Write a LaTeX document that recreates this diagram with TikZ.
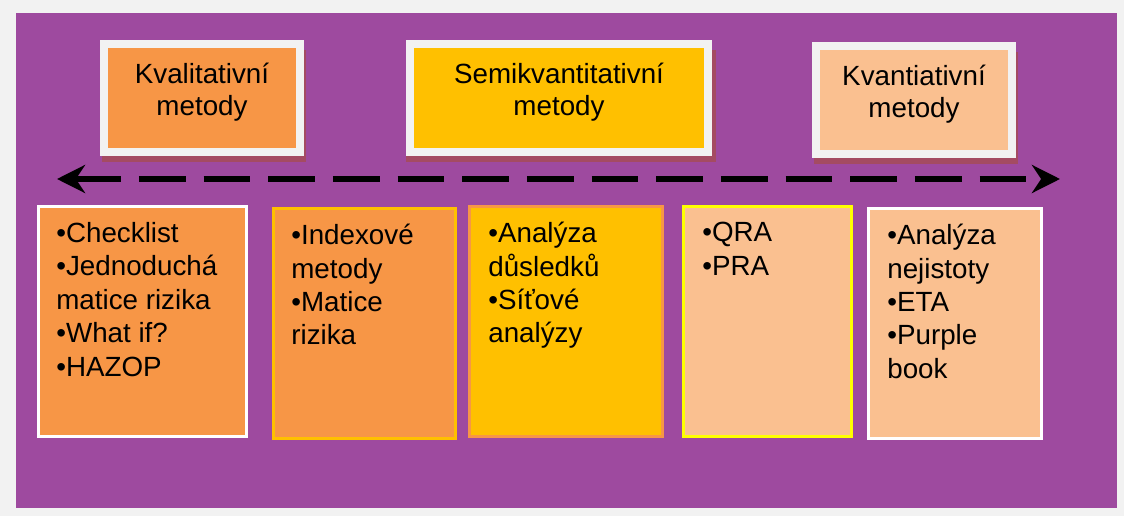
\documentclass[tikz,border=0pt]{standalone}
\usepackage{fontspec}
\setmainfont{Liberation Sans}
\usepackage{xcolor}
\definecolor{MethodGray}{HTML}{F2F2F2}
\definecolor{MethodPurple}{HTML}{9E4A9F}
\definecolor{MethodOrange}{HTML}{F79646}
\definecolor{MethodGold}{HTML}{FFC000}
\definecolor{MethodPeach}{HTML}{FAC090}
\definecolor{MethodYellow}{HTML}{FFFF00}
\definecolor{MethodShadow}{HTML}{A44B62}
\usepackage{tikz}
\usetikzlibrary{arrows.meta}
\usetikzlibrary{positioning}
\usetikzlibrary{shadows}

\begin{document}
\begin{tikzpicture}[x=0.2mm,y=-0.2mm,
	headbox/.style={rectangle,draw=MethodGray,line width=4.5pt,minimum height=2.16cm,inner sep=0pt,
		drop shadow={shadow scale=1.04,shadow xshift=0.04cm,shadow yshift=-0.16cm,fill=MethodShadow,opacity=1}},
	headtext/.style={inner sep=0pt,align=center,font=\fontsize{15.8}{18}\selectfont},
	listbox/.style={rectangle,line width=1.7pt,minimum height=4.6cm,inner sep=0pt},
	listtext/.style={inner sep=0pt,align=left,font=\fontsize{15.8}{19}\selectfont}]
	
	% background
	\fill[MethodGray] (0,0) rectangle (1124,516);
	\fill[MethodPurple] (16,13) rectangle (1117,508);
	\useasboundingbox (0,0) rectangle (1124,516);
	
	% groups of methods
	\node[headbox,fill=MethodOrange,minimum width=3.92cm] (kval) at (202,98) {};
	\node[headbox,fill=MethodGold,minimum width=5.96cm] (semi) at (559,98) {};
	\node[headbox,fill=MethodPeach,minimum width=3.92cm] (kvant) at (914,100) {};
	
	\node[headtext,below=0.46cm of kval.north] {Kvalitativní\\metody};
	\node[headtext,below=0.46cm of semi.north] {Semikvantitativní\\metody};
	\node[headtext,below=0.46cm of kvant.north] {Kvantiativní\\metody};
	
	% scale from left to right
	\coordinate (leftend) at (57,179);
	\coordinate (rightend) at (1060,179);
	\draw[line width=3.2pt,dash pattern=on 26.6pt off 10.2pt,
		{Stealth[length=0.56cm,width=0.56cm]}-{Stealth[length=0.56cm,width=0.56cm]}] (leftend) -- (rightend);
	
	% single methods
	\node[listbox,draw=white,fill=MethodOrange,minimum width=4.16cm] (checks) at (142.5,321.5) {};
	\node[listbox,draw=MethodGold,fill=MethodOrange,minimum width=3.64cm] (index) at (364.5,323.5) {};
	\node[listbox,draw=MethodOrange,fill=MethodGold,minimum width=3.86cm] (conseq) at (566,321.5) {};
	\node[listbox,draw=MethodYellow,fill=MethodPeach,minimum width=3.36cm] (qra) at (767.5,321.5) {};
	\node[listbox,draw=white,fill=MethodPeach,minimum width=3.46cm] (uncert) at (955,323.5) {};
	
	\node[listtext,below right=0.34cm and 0.38cm of checks.north west] {•Checklist\\•Jednoduchá\\matice rizika\\•What if?\\•HAZOP};
	\node[listtext,below right=0.34cm and 0.38cm of index.north west] {•Indexové\\metody\\•Matice\\rizika};
	\node[listtext,below right=0.34cm and 0.4cm of conseq.north west] {•Analýza\\důsledků\\•Síťové\\analýzy};
	\node[listtext,below right=0.34cm and 0.4cm of qra.north west] {•QRA\\•PRA};
	\node[listtext,below right=0.34cm and 0.4cm of uncert.north west] {•Analýza\\nejistoty\\•ETA\\•Purple\\book};
	
\end{tikzpicture}
\end{document}
